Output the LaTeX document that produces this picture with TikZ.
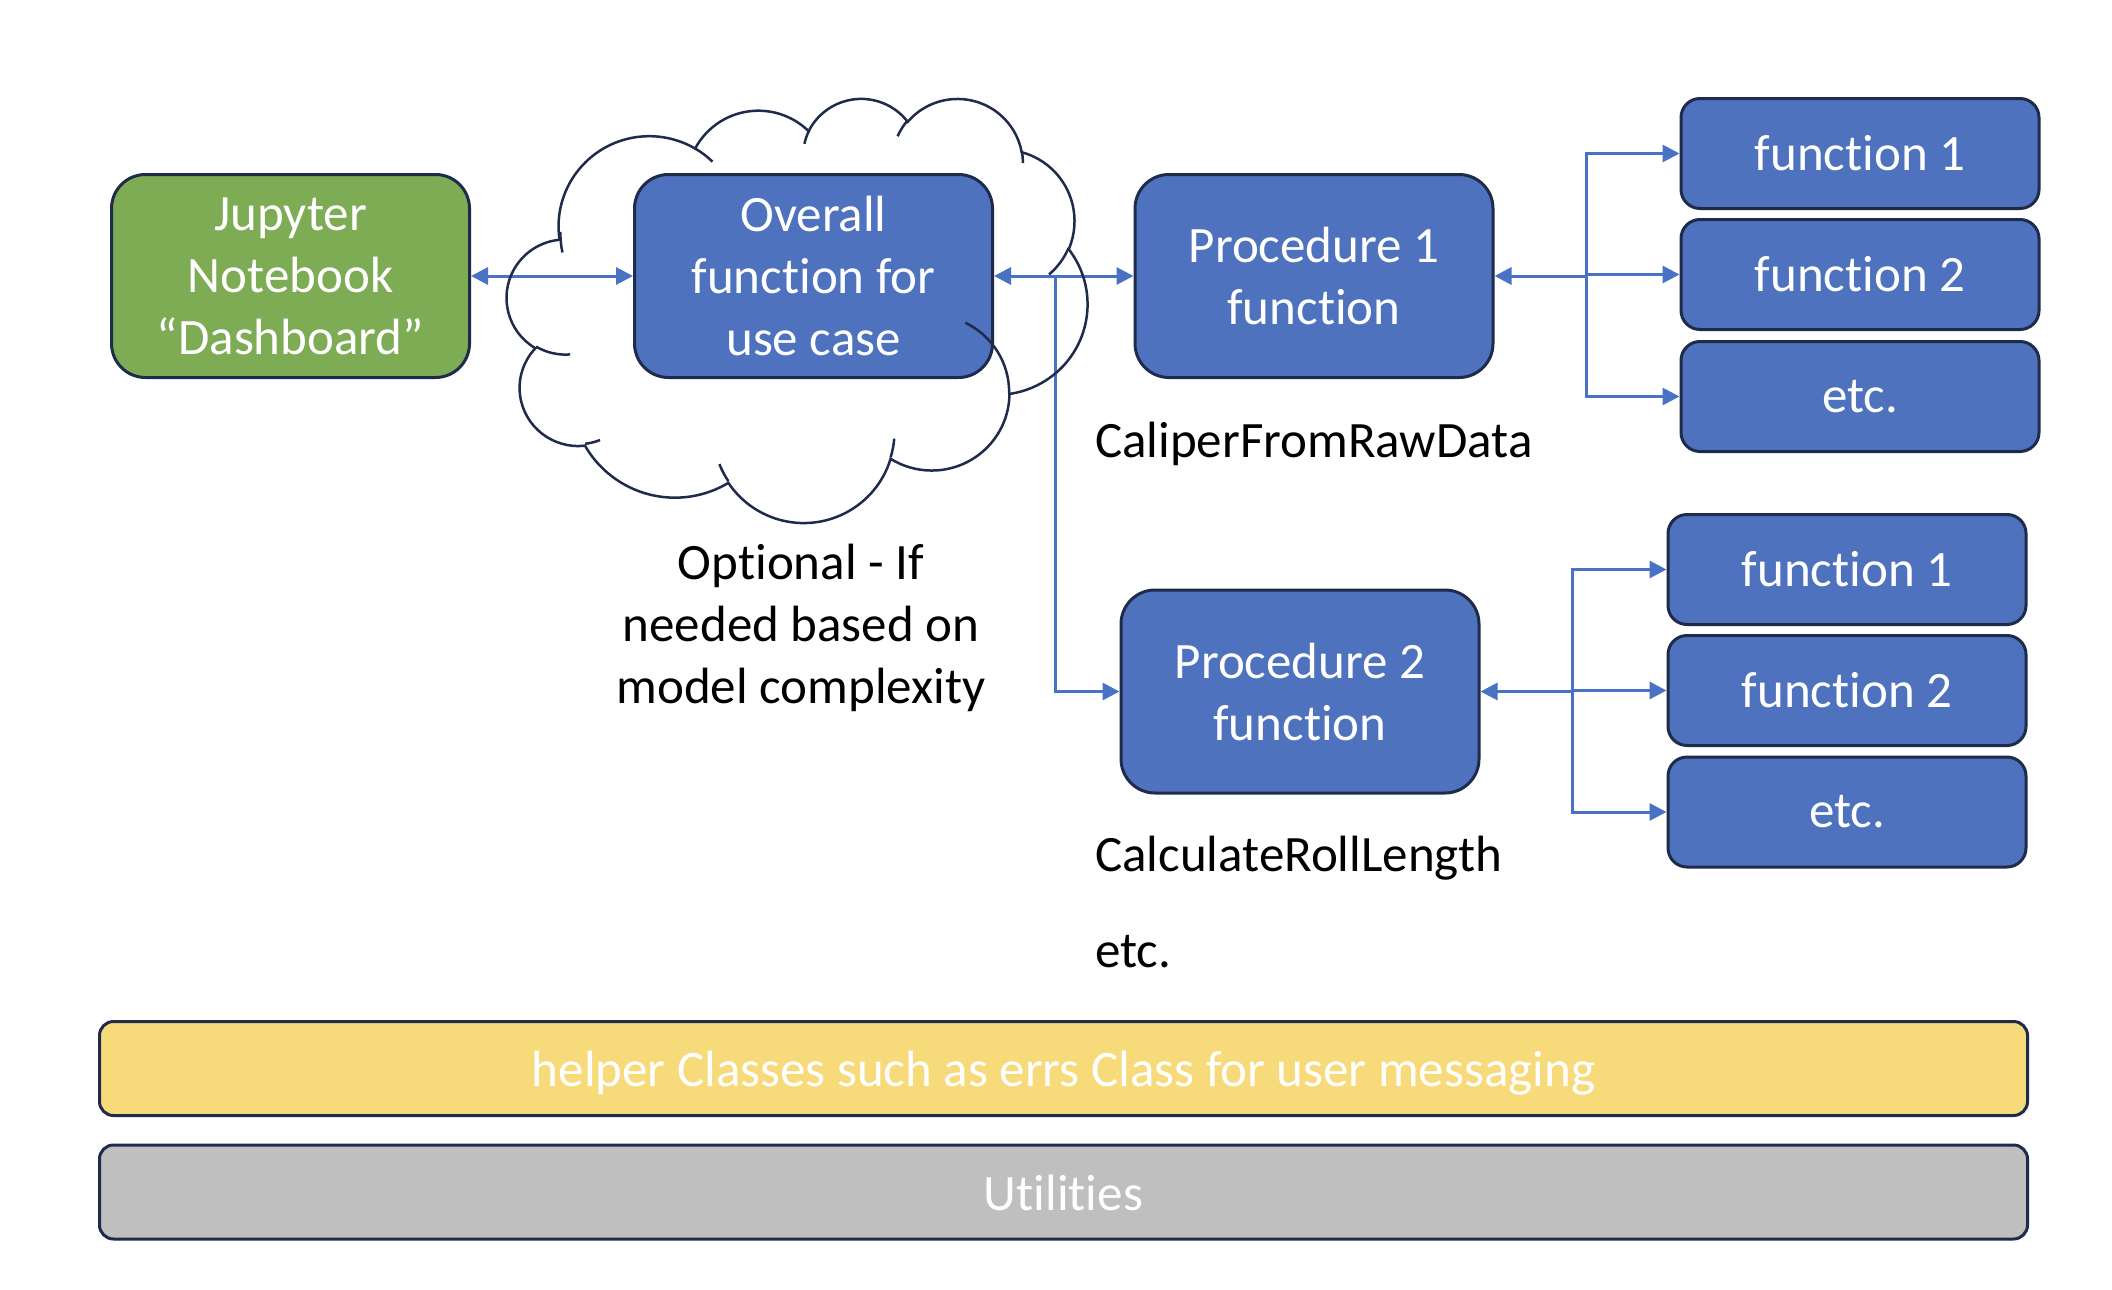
\documentclass[tikz,border=0pt]{standalone}
\usepackage{fontspec}
\setmainfont{Carlito}[Ligatures={NoCommon}]
\usetikzlibrary{arrows.meta}
\definecolor{navy}{HTML}{1F2B4B}
\definecolor{bfill}{HTML}{4F72BE}
\definecolor{conn}{HTML}{4A72C4}
\definecolor{gfill}{HTML}{7DAC55}
\definecolor{yfill}{HTML}{F7DA7A}
\definecolor{grayfill}{HTML}{BFBFBF}
\begin{document}
\begin{tikzpicture}[x=1pt, y=-1pt,
  declare function={
    ppt(\ua,\ub,\us)=atan2(\ua*sin(\us),\ub*cos(\us));
    pptd(\xa,\xb,\xs,\xw)=ppt(\xa,\xb,\xs+\xw)-ppt(\xa,\xb,\xs)+360*round((\xw-ppt(\xa,\xb,\xs+\xw)+ppt(\xa,\xb,\xs))/360);
  },
  bigfont/.style={font=\fontsize{51}{62}\selectfont},
  bigbox/.style={bigfont, draw=navy, line width=3pt, rounded corners=34pt, fill=bfill, text=white, align=center, inner sep=0pt, minimum width=358pt, minimum height=203pt},
  fnbox/.style={bigfont, draw=navy, line width=3pt, rounded corners=19pt, fill=bfill, text=white, inner sep=0pt, minimum width=358pt, minimum height=110pt},
  barbox/.style={bigfont, draw=navy, line width=3pt, rounded corners=14pt, text=white, inner sep=0pt, minimum width=1928pt, minimum height=94pt, text height=36pt, text depth=0pt},
  lbl/.style={bigfont, text=black, inner sep=0pt},
  conline/.style={draw=conn, line width=3pt},
  tip/.style={-{Triangle[length=17pt,width=17pt]}},
  tips/.style={{Triangle[length=17pt,width=17pt]}-{Triangle[length=17pt,width=17pt]}},
  cloudline/.style={draw=navy, line width=2.5pt}
]
\useasboundingbox (0,0) rectangle (2112,1290);

% main boxes
\node[bigbox, fill=gfill] (jup) at (290.5,276) {Jupyter\\Notebook\\“Dashboard”};
\node[bigbox] (ov) at (813.5,276) {Overall\\function for\\use case};
\node[bigbox] (p1) at (1314,276) {Procedure 1\\function};
\node[bigbox] (p2) at (1300,691.5) {Procedure 2\\function};

% function boxes, procedure 1
\node[fnbox] (f1a) at (1860,153.5) {function 1};
\node[fnbox] (f2a) at (1860,274.5) {function 2};
\node[fnbox] (f3a) at (1860,396.5) {etc.};
% function boxes, procedure 2
\node[fnbox] (f1b) at (1847,569.5) {function 1};
\node[fnbox] (f2b) at (1847,690.5) {function 2};
\node[fnbox] (f3b) at (1847,812) {etc.};

% bars
\node[barbox, fill=yfill] (helper) at (1063.5,1068.5) {helper Classes such as errs Class for user messaging};
\node[barbox, fill=grayfill] (util) at (1063.5,1192) {Utilities};

% labels
\node[lbl, anchor=base west] (cal1) at (1095,457) {CaliperFromRawData};
\node[lbl, anchor=base west] (cal2) at (1095,871) {CalculateRollLength};
\node[lbl, anchor=base west] (etcl) at (1095,967) {etc.};
\node[lbl, align=center] (opt) at (801,628) {Optional - If\\needed based on\\model complexity};

% connectors
\coordinate (j) at (1055,276);
\coordinate (b1) at (1586.5,276);
\coordinate (b2) at (1572.4,691.5);
\draw[conline, tips] (jup.east) -- (ov.west);
\draw[conline, tips] (ov.east) -- (p1.west);
\draw[conline, tip] (j) |- (p2.west);
\draw[conline, tip] (b1) -- (p1.east);
\draw[conline, tip] (b1) |- (f1a.west);
\draw[conline, tip] (b1) |- (f2a.west);
\draw[conline, tip] (b1) |- (f3a.west);
\draw[conline, tip] (b2) -- (p2.east);
\draw[conline, tip] (b2) |- (f1b.west);
\draw[conline, tip] (b2) |- (f2b.west);
\draw[conline, tip] (b2) |- (f3b.west);

% cloud (PowerPoint cloud geometry)
\begin{scope}[shift={(507,97.5)}, x=1pt, y=1pt, xscale=13.433, yscale=-9.815]
\draw[cloudline] (3.900,14.370)
  arc[x radius=6.753, y radius=9.190, start angle={ppt(6.753,9.190,-190.4875)}, delta angle={pptd(6.753,9.190,-190.4875,123.7805)}]
  arc[x radius=5.333, y radius=7.267, start angle={ppt(5.333,7.267,-144.1024)}, delta angle={pptd(5.333,7.267,-144.1024,89.9452)}]
  arc[x radius=4.365, y radius=5.945, start angle={ppt(4.365,5.945,-145.8079)}, delta angle={pptd(4.365,5.945,-145.8079,99.7230)}]
  arc[x radius=4.857, y radius=6.595, start angle={ppt(4.857,6.595,-130.9861)}, delta angle={pptd(4.857,6.595,-130.9861,117.2417)}]
  arc[x radius=5.333, y radius=7.273, start angle={ppt(5.333,7.273,-78.7089)}, delta angle={pptd(5.333,7.273,-78.7089,109.0269)}]
  arc[x radius=6.775, y radius=9.220, start angle={ppt(6.775,9.220,-46.2673)}, delta angle={pptd(6.775,9.220,-46.2673,130.2690)}]
  arc[x radius=5.785, y radius=7.867, start angle={ppt(5.785,7.867,0.6250)}, delta angle={pptd(5.785,7.867,0.6250,114.0333)}]
  arc[x radius=6.752, y radius=9.215, start angle={ppt(6.752,9.215,22.4516)}, delta angle={pptd(6.752,9.215,22.4516,115.1726)}]
  arc[x radius=7.720, y radius=10.543, start angle={ppt(7.720,10.543,66.2426)}, delta angle={pptd(7.720,10.543,66.2426,75.7110)}]
  arc[x radius=4.360, y radius=5.918, start angle={ppt(4.360,5.918,-274.9421)}, delta angle={pptd(4.360,5.918,-274.9421,146.7356)}]
  arc[x radius=4.345, y radius=5.945, start angle={ppt(4.345,5.945,-246.8285)}, delta angle={pptd(4.345,5.945,-246.8285,152.5189)}]
  -- cycle;
\draw[cloudline]
  (4.693,26.177) arc[x radius=4.345, y radius=5.945, start angle={ppt(4.345,5.945,86.7420)}, delta angle={pptd(4.345,5.945,86.7420,26.4295)}]
  (6.928,34.899) arc[x radius=4.360, y radius=5.918, start angle={ppt(4.360,5.918,73.6105)}, delta angle={pptd(4.360,5.918,73.6105,11.4475)}]
  (16.478,39.090) arc[x radius=6.752, y radius=9.215, start angle={ppt(6.752,9.215,137.6242)}, delta angle={pptd(6.752,9.215,137.6242,14.0811)}]
  (28.827,34.751) arc[x radius=6.752, y radius=9.215, start angle={ppt(6.752,9.215,6.4533)}, delta angle={pptd(6.752,9.215,6.4533,15.9984)}]
  (34.129,22.954) arc[x radius=5.785, y radius=7.867, start angle={ppt(5.785,7.867,-70.2924)}, delta angle={pptd(5.785,7.867,-70.2924,70.9174)}]
  (41.798,15.354) arc[x radius=5.333, y radius=7.273, start angle={ppt(5.333,7.273,30.3180)}, delta angle={pptd(5.333,7.273,30.3180,27.7515)}]
  (38.324,5.426) arc[x radius=4.857, y radius=6.595, start angle={ppt(4.857,6.595,-13.7443)}, delta angle={pptd(4.857,6.595,-13.7443,14.8501)}]
  (29.078,3.952) arc[x radius=4.857, y radius=6.595, start angle={ppt(4.857,6.595,-149.1815)}, delta angle={pptd(4.857,6.595,-149.1815,18.1959)}]
  (22.141,4.720) arc[x radius=4.365, y radius=5.945, start angle={ppt(4.365,5.945,-163.4943)}, delta angle={pptd(4.365,5.945,-163.4943,17.6864)}]
  (14.000,5.192) arc[x radius=6.753, y radius=9.190, start angle={ppt(6.753,9.190,-66.7070)}, delta angle={pptd(6.753,9.190,-66.7070,12.3194)}]
  (4.127,15.789) arc[x radius=6.753, y radius=9.190, start angle={ppt(6.753,9.190,163.7356)}, delta angle={pptd(6.753,9.190,163.7356,17.7022)}];
\end{scope}
\end{tikzpicture}
\end{document}
